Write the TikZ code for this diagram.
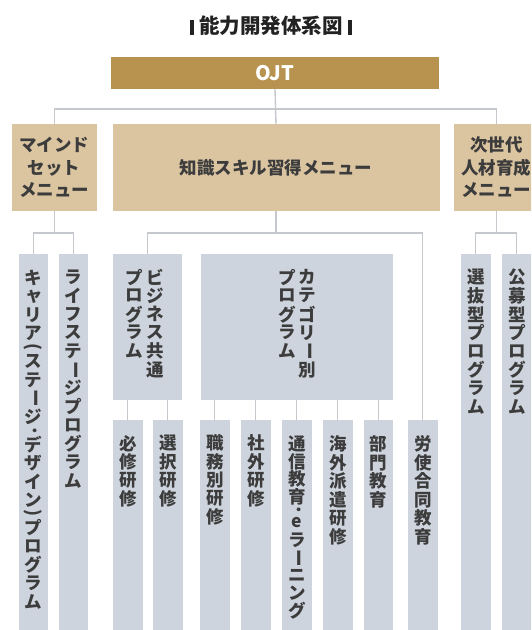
\documentclass[tikz,border=0pt]{standalone}
\usepackage{fontspec}
\usepackage{graphicx}
\setmainfont{Noto Sans CJK JP}
\definecolor{ojtcol}{HTML}{B8934F}
\definecolor{tancol}{HTML}{DBC5A1}
\definecolor{bluecol}{HTML}{CED4DD}
\definecolor{linecol}{HTML}{C5C8CC}
\definecolor{txtcol}{HTML}{3C3C3C}
\definecolor{titlecol}{HTML}{222222}
% vertical text machinery
\newdimen\vtpitch \vtpitch=18.5pt
\newdimen\vtcolw \vtcolw=17.5pt
\def\vtnorm#1{\vbox to\vtpitch{\vss\hbox to\vtcolw{\hss#1\hss}\vss}}
\def\vtrot#1{\vbox to\vtpitch{\vss\hbox to\vtcolw{\hss\rotatebox[origin=c]{-90}{#1}\hss}\vss}}
\def\vthalf#1{\vbox to.5\vtpitch{\vss\hbox to\vtcolw{\hss\rotatebox[origin=c]{-90}{#1}\hss}\vss}}
\def\vtsmall#1{\vbox to\vtpitch{\vss\hbox to\vtcolw{\hss\kern2pt\raisebox{1.5pt}{#1}\hss}\vss}}
\def\vtone#1{%
  \ifx#1ー\vtrot{#1}%
  \else\ifx#1(\vthalf{#1}%
  \else\ifx#1)\vthalf{#1}%
  \else\ifx#1ャ\vtsmall{#1}%
  \else\ifx#1·\vthalf{#1}%
  \else\vtnorm{#1}%
  \fi\fi\fi\fi\fi}
\def\vtloop#1{\ifx#1\relax\else\vtone{#1}\expandafter\vtloop\fi}
\newcommand\vcol[1]{\vtop{\offinterlineskip\vtloop#1\relax}}
\tikzset{
  boxbase/.style={inner sep=0pt, outer sep=0pt, anchor=north west, draw=none},
  ojtbox/.style={boxbase, fill=ojtcol, text=white, font=\fontsize{20}{24}\selectfont\bfseries},
  tanbox/.style={boxbase, fill=tancol, text=txtcol, align=center,
                 font=\fontsize{17.5}{22.5}\selectfont\bfseries},
  bluebox/.style={boxbase, fill=bluecol},
  narrow/.style={bluebox, minimum width=29.5pt, minimum height=400pt},
  vlabel/.style={inner sep=0pt, outer sep=0pt, anchor=north, text=txtcol,
                 font=\fontsize{17.5}{18.5}\selectfont\bfseries},
  conn/.style={draw=linecol, line width=1.4pt},
}
\begin{document}
\begin{tikzpicture}[x=1pt,y=-1pt]
\useasboundingbox (0,0) rectangle (531,630);
\clip (0,0) rectangle (531,630);
% title
\node[text=titlecol, font=\fontsize{20.5}{24}\selectfont\bfseries, inner sep=0pt] (title) at (271,26)
  {\raisebox{-1pt}{\rule{4.5pt}{15pt}}\hspace{5pt}能力開発体系図\hspace{5pt}\raisebox{-1pt}{\rule{4.5pt}{15pt}}};
% level 0
\node[ojtbox, minimum width=328pt, minimum height=32pt] (ojt) at (111,57) {OJT};
% level 1
\node[tanbox, minimum width=84.5pt, minimum height=87pt] (mind) at (12,124) {マインド\\セット\\メニュー};
\node[tanbox, minimum width=327pt, minimum height=87pt] (know) at (112.5,124) {知識スキル習得メニュー};
\node[tanbox, minimum width=84.5pt, minimum height=87pt] (nxt) at (454,124) {次世代\\人材育成\\メニュー};
% level 2
\node[narrow] (car) at (18.5,254) {};
\node[narrow] (life) at (58.5,254) {};
\node[bluebox, minimum width=69pt, minimum height=146pt] (biz) at (113,254) {};
\node[bluebox, minimum width=192pt, minimum height=146pt] (cat) at (201,254) {};
\node[narrow] (sen) at (461,254) {};
\node[narrow] (kobo) at (502,254) {};
% level 3
\node[narrow] (hisshu) at (113,420) {};
\node[narrow] (sentaku) at (153,420) {};
\node[narrow] (shokumu) at (200,420) {};
\node[narrow] (shagai) at (241,420) {};
\node[narrow] (tsushin) at (282,420) {};
\node[narrow] (kaigai) at (323,420) {};
\node[narrow] (bumon) at (363.5,420) {};
\node[narrow] (roshi) at (408,420) {};
% vertical labels
\node[vlabel] (tcar) at ([yshift=-15pt]car.north) {\vcol{キャリア(ステージ·デザイン)プログラム}};
\node[vlabel] (tlife) at ([yshift=-14pt]life.north) {\vcol{ライフステージプログラム}};
\node[vlabel] (tbiz) at ([xshift=-3pt,yshift=-14pt]biz.north) {\hbox{\vcol{プログラム}\hskip4pt\vcol{ビジネス共通}}};
\node[vlabel] (tcat) at ([yshift=-14pt]cat.north) {\hbox{\vcol{プログラム}\hskip3pt\vcol{カテゴリー別}}};
\node[vlabel] (tsen) at ([yshift=-14pt]sen.north) {\vcol{選抜型プログラム}};
\node[vlabel] (tkobo) at ([yshift=-14pt]kobo.north) {\vcol{公募型プログラム}};
\node[vlabel] (thisshu) at ([yshift=-14pt]hisshu.north) {\vcol{必修研修}};
\node[vlabel] (tsentaku) at ([yshift=-14pt]sentaku.north) {\vcol{選択研修}};
\node[vlabel] (tshokumu) at ([yshift=-14pt]shokumu.north) {\vcol{職務別研修}};
\node[vlabel] (tshagai) at ([yshift=-14pt]shagai.north) {\vcol{社外研修}};
\node[vlabel] (ttsushin) at ([yshift=-15pt]tsushin.north) {\vtpitch=17.6pt\vcol{通信教育·eラーニング}};
\node[vlabel] (tkaigai) at ([yshift=-15pt]kaigai.north) {\vcol{海外派遣研修}};
\node[vlabel] (tbumon) at ([yshift=-15pt]bumon.north) {\vcol{部門教育}};
\node[vlabel] (troshi) at ([yshift=-15pt]roshi.north) {\vcol{労使合同教育}};
% connectors
\coordinate (r0) at (0,109);
\coordinate (r1) at (0,233);
\draw[conn] (ojt.south) -- (know.north);
\draw[conn] (mind.north) |- (nxt.north |- r0) -- (nxt.north);
\draw[conn] (mind.south) -- (mind.south |- r1);
\draw[conn] (car.north) |- (life.north |- r1) -- (life.north);
\draw[conn] (know.south) -- (know.south |- r1);
\draw[conn] (biz.north) |- (roshi.north |- r1) -- (roshi.north);
\draw[conn] (nxt.south) -- (nxt.south |- r1);
\draw[conn] (sen.north) |- (kobo.north |- r1) -- (kobo.north);
\foreach \c in {hisshu,sentaku}{\draw[conn] (\c.north |- biz.south) -- (\c.north);}
\foreach \c in {shokumu,shagai,tsushin,kaigai,bumon}{\draw[conn] (\c.north |- cat.south) -- (\c.north);}
\end{tikzpicture}
\end{document}
